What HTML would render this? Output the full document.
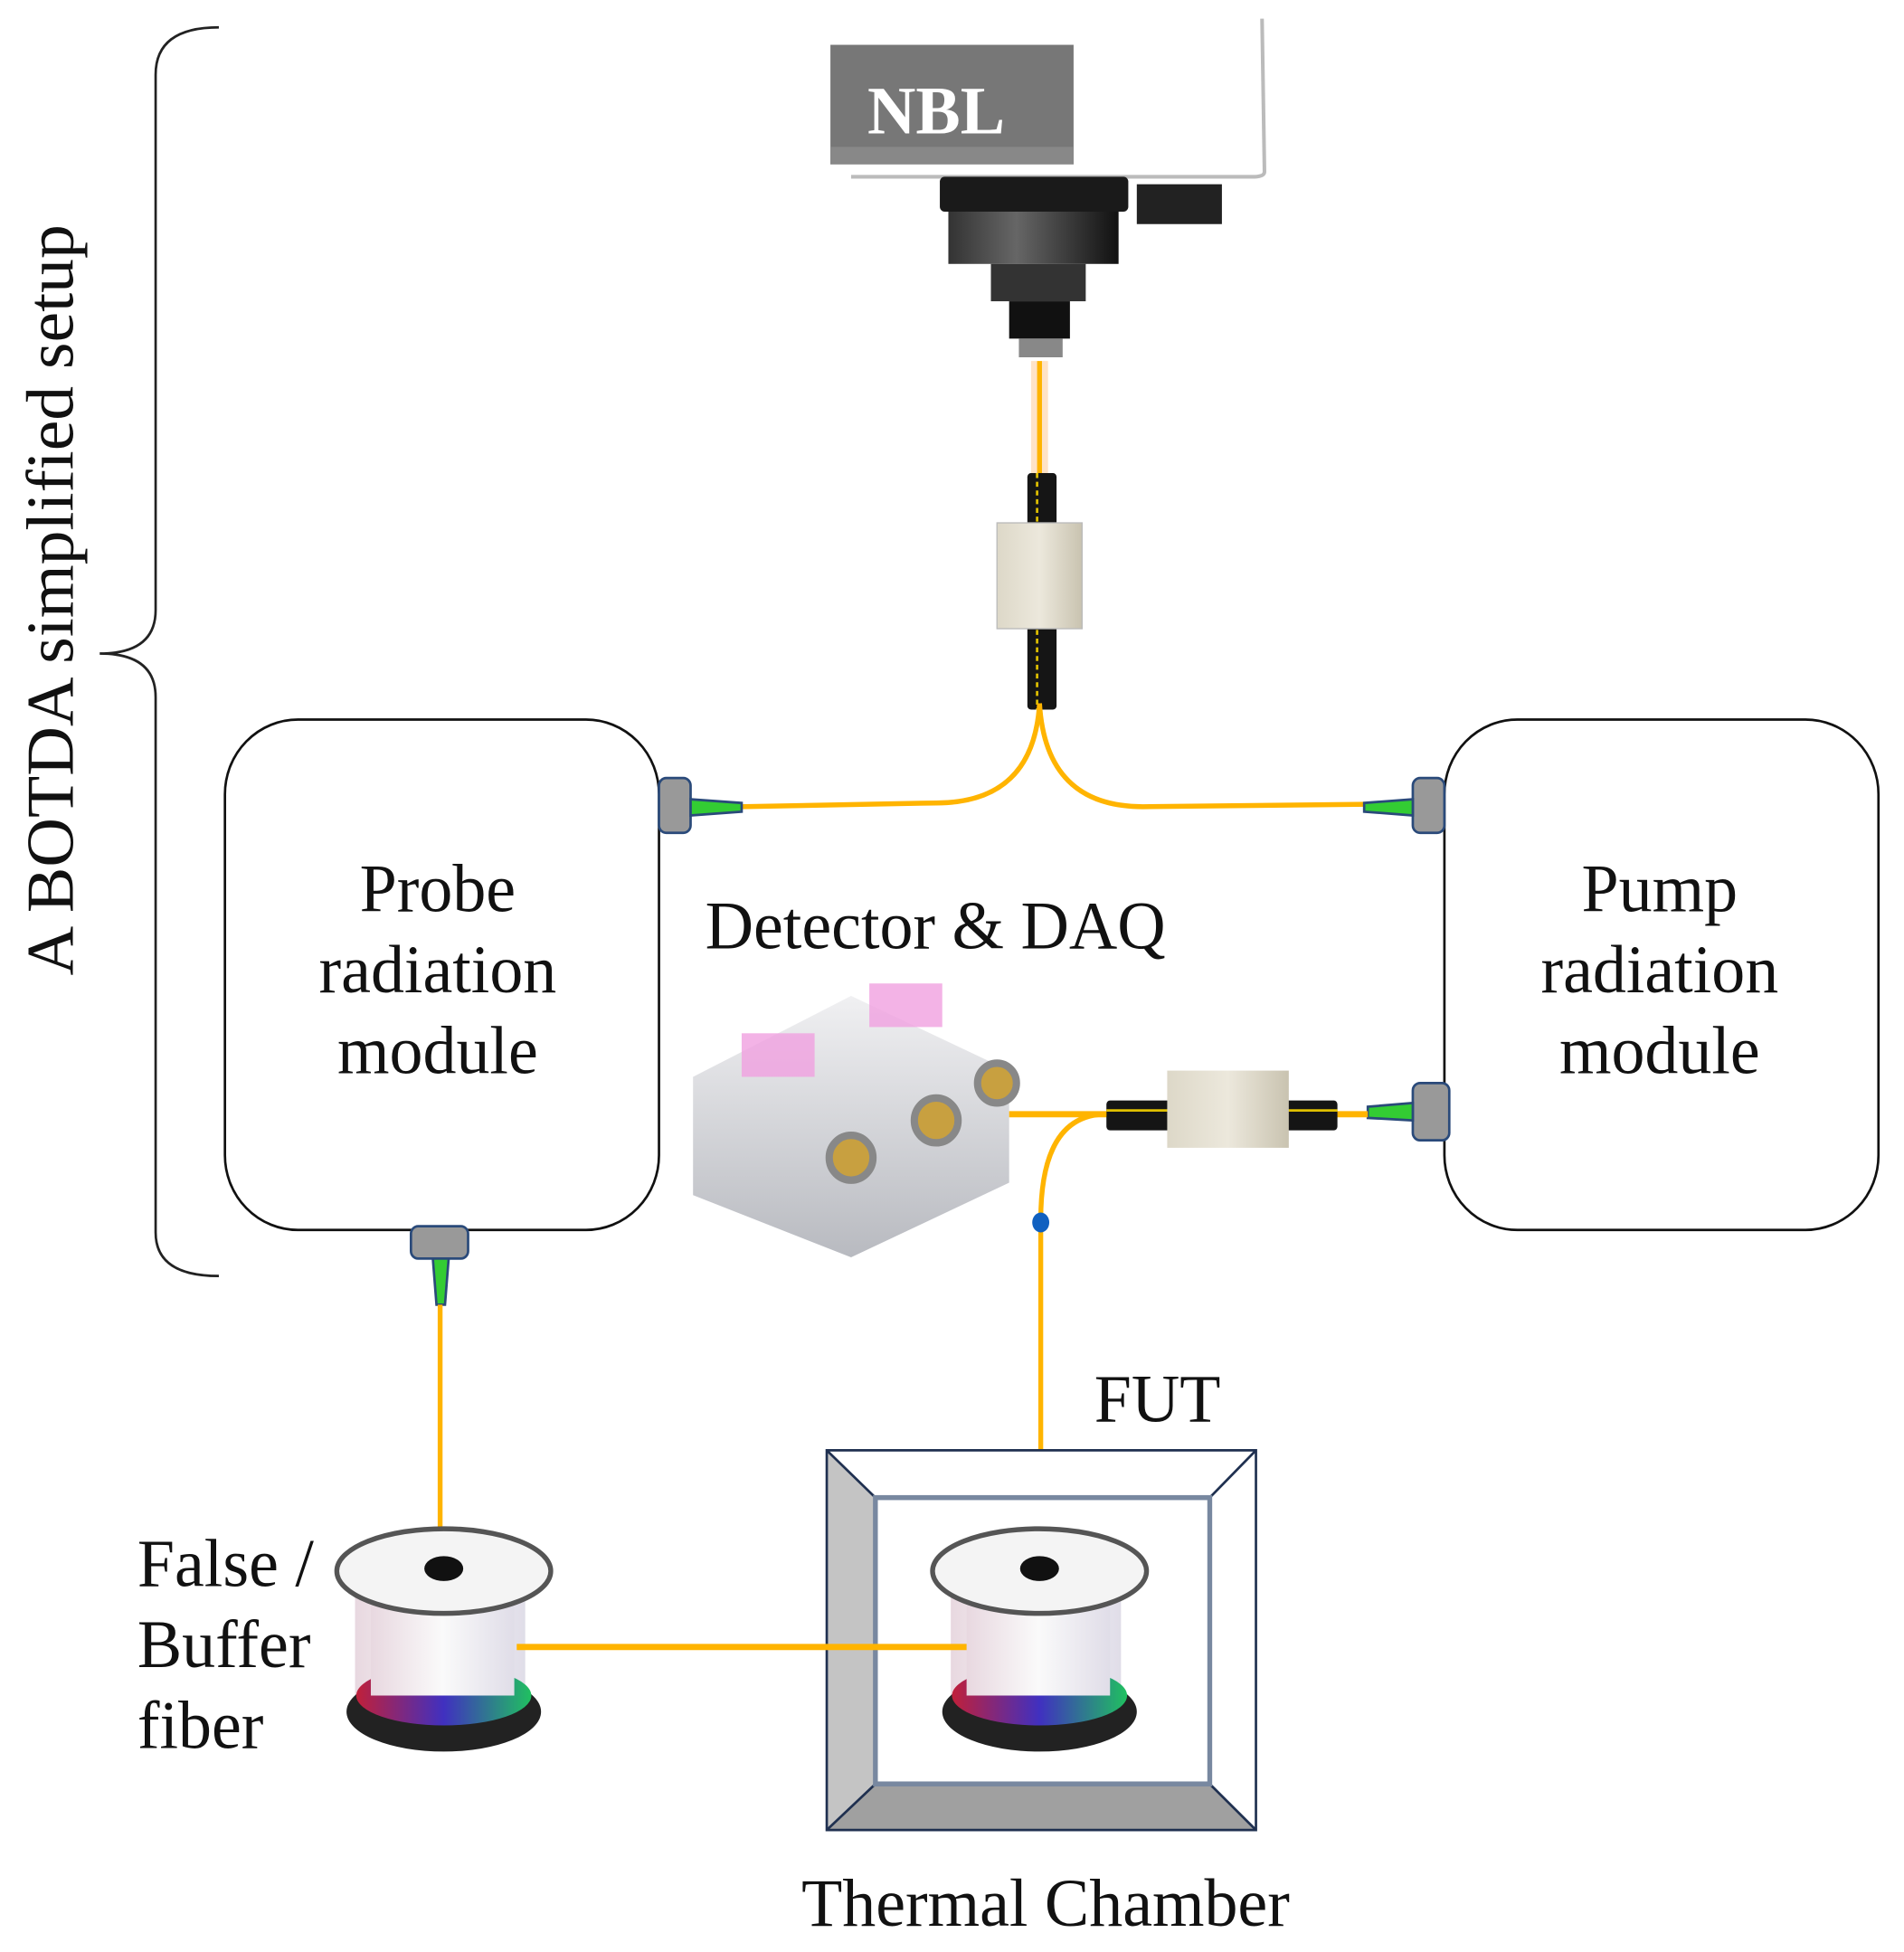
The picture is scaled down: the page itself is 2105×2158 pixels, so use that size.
<!DOCTYPE html>
<html><head><meta charset="utf-8"><style>
html,body{margin:0;padding:0;background:#fff;}
svg{display:block;}
text{font-family:"Liberation Serif",serif;fill:#111;}
</style></head><body>
<svg width="2105" height="2158" viewBox="0 0 1566 1568" preserveAspectRatio="none" xmlns="http://www.w3.org/2000/svg">
<defs>
<linearGradient id="lens" x1="0" x2="1"><stop offset="0" stop-color="#333"/><stop offset=".4" stop-color="#666"/><stop offset="1" stop-color="#111"/></linearGradient>
<linearGradient id="beige" x1="0" x2="1"><stop offset="0" stop-color="#ddd8c8"/><stop offset=".5" stop-color="#ece8dc"/><stop offset="1" stop-color="#c9c3b0"/></linearGradient>
<linearGradient id="silver" x1="0" x2="0" y1="0" y2="1"><stop offset="0" stop-color="#f0f0f2"/><stop offset="1" stop-color="#b8bac0"/></linearGradient>
<linearGradient id="spool" x1="0" x2="1"><stop offset="0" stop-color="#e8d8e0"/><stop offset=".5" stop-color="#fafafa"/><stop offset="1" stop-color="#e0dde8"/></linearGradient>
<linearGradient id="base" x1="0" x2="1"><stop offset="0" stop-color="#c0203a"/><stop offset=".5" stop-color="#4030c0"/><stop offset="1" stop-color="#20c060"/></linearGradient>
</defs>

<!-- brace -->
<path d="M180 22 Q128 22 128 60 L128 490 Q128 525 82 525 Q128 525 128 560 L128 990 Q128 1025 180 1025" fill="none" stroke="#222" stroke-width="2"/>
<text transform="translate(60 482) rotate(-90)" text-anchor="middle" font-size="55">A BOTDA simplified setup</text>

<!-- NBL -->
<path d="M1038 15 L1040 138 Q1040 142 1030 142 L700 142" fill="none" stroke="#bbb" stroke-width="3"/>
<rect x="683" y="36" width="200" height="96" fill="#777"/>
<rect x="683" y="118" width="200" height="14" fill="#888"/>
<text x="770" y="107" text-anchor="middle" font-size="55" font-weight="bold" style="fill:#fff">NBL</text>
<rect x="773" y="142" width="155" height="28" rx="4" fill="#1a1a1a"/>
<rect x="780" y="170" width="140" height="42" fill="url(#lens)"/>
<rect x="815" y="212" width="78" height="30" fill="#333"/>
<rect x="830" y="242" width="50" height="30" fill="#111"/>
<rect x="838" y="272" width="36" height="15" fill="#888"/>
<rect x="935" y="148" width="70" height="32" fill="#222"/>
<!-- fiber top -->
<rect x="848" y="290" width="14" height="95" fill="#ffd0a0" opacity=".6"/>
<line x1="855" y1="290" x2="855" y2="385" stroke="#ffb400" stroke-width="4"/>
<rect x="845" y="380" width="24" height="190" rx="3" fill="#151515"/>
<line x1="853" y1="380" x2="853" y2="570" stroke="#e0c000" stroke-width="2" stroke-dasharray="4 3"/>
<rect x="820" y="420" width="70" height="85" fill="url(#beige)" stroke="#bbb"/>
<!-- split -->
<path d="M855 565 Q850 645 770 645 L608 648" fill="none" stroke="#ffb400" stroke-width="4"/>
<path d="M855 565 Q860 648 940 648 L1125 646" fill="none" stroke="#ffb400" stroke-width="4"/>

<!-- boxes -->
<rect x="185" y="578" width="357" height="410" rx="60" fill="none" stroke="#111" stroke-width="2"/>
<rect x="1188" y="578" width="357" height="410" rx="60" fill="none" stroke="#111" stroke-width="2"/>
<g font-size="55" text-anchor="middle">
<text x="360" y="732">Probe</text><text x="360" y="797">radiation</text><text x="360" y="862">module</text>
<text x="1365" y="732">Pump</text><text x="1365" y="797">radiation</text><text x="1365" y="862">module</text>
</g>
<text x="580" y="762" font-size="55">Detector &amp; DAQ</text>

<!-- connectors -->
<g stroke="#2a4a7a" stroke-width="2">
<rect x="542" y="625" width="26" height="44" rx="6" fill="#999"/>
<path d="M568 642 L610 645 L610 652 L568 655 Z" fill="#3c3"/>
<rect x="1162" y="625" width="26" height="44" rx="6" fill="#999"/>
<path d="M1162 642 L1122 645 L1122 652 L1162 655 Z" fill="#3c3"/>
<rect x="1162" y="870" width="30" height="46" rx="6" fill="#999"/>
<path d="M1162 886 L1125 889 L1125 898 L1162 900 Z" fill="#3c3"/>
<rect x="338" y="985" width="47" height="26" rx="6" fill="#999"/>
<path d="M356 1011 L359 1048 L366 1048 L369 1011 Z" fill="#3c3"/>
</g>

<!-- DAQ -->
<path d="M570 865 L700 800 L830 860 L830 950 L700 1010 L570 960 Z" fill="url(#silver)"/>
<rect x="610" y="830" width="60" height="35" fill="#f0a0e0" opacity=".8"/>
<rect x="715" y="790" width="60" height="35" fill="#f0a0e0" opacity=".8"/>
<circle cx="700" cy="930" r="18" fill="#c8a040" stroke="#888" stroke-width="6"/>
<circle cx="770" cy="900" r="18" fill="#c8a040" stroke="#888" stroke-width="6"/>
<circle cx="820" cy="870" r="16" fill="#c8a040" stroke="#888" stroke-width="6"/>

<!-- second coupler -->
<line x1="830" y1="895" x2="1125" y2="895" stroke="#ffb400" stroke-width="5"/>
<rect x="910" y="884" width="190" height="24" rx="3" fill="#151515"/>
<line x1="910" y1="892" x2="1100" y2="892" stroke="#e0c000" stroke-width="2"/>
<rect x="960" y="860" width="100" height="62" fill="url(#beige)"/>
<path d="M910 895 Q856 895 856 980 L856 1232" fill="none" stroke="#ffb400" stroke-width="4"/>
<ellipse cx="856" cy="982" rx="7" ry="8" fill="#1060c0"/>

<!-- fiber left down -->
<line x1="362" y1="1048" x2="362" y2="1240" stroke="#ffb400" stroke-width="4"/>

<!-- thermal chamber -->
<rect x="680" y="1165" width="353" height="305" fill="#fff"/>
<path d="M680 1165 L720 1203 L720 1433 L680 1470 Z" fill="#c4c4c4"/>
<path d="M680 1470 L720 1433 L995 1433 L1033 1470 Z" fill="#a0a0a0"/>
<g fill="none" stroke="#1f3050" stroke-width="2">
<rect x="680" y="1165" width="353" height="305"/>
<line x1="680" y1="1165" x2="720" y2="1203"/><line x1="1033" y1="1165" x2="995" y2="1203"/>
<line x1="680" y1="1470" x2="720" y2="1433"/><line x1="1033" y1="1470" x2="995" y2="1433"/>
</g>
<rect x="720" y="1203" width="275" height="230" fill="none" stroke="#7888a0" stroke-width="4"/>
<text x="900" y="1142" font-size="55">FUT</text>
<text x="860" y="1547" font-size="55" text-anchor="middle">Thermal Chamber</text>

<!-- spools -->
<g id="sp">
<rect x="292" y="1270" width="140" height="110" fill="url(#spool)"/>
<ellipse cx="365" cy="1375" rx="80" ry="32" fill="#222"/>
<ellipse cx="365" cy="1362" rx="72" ry="24" fill="url(#base)"/>
<rect x="305" y="1290" width="118" height="72" fill="url(#spool)"/>
<ellipse cx="365" cy="1262" rx="88" ry="34" fill="#f4f4f4" stroke="#555" stroke-width="4"/>
<ellipse cx="365" cy="1260" rx="16" ry="10" fill="#111"/>
</g>
<use href="#sp" transform="translate(490 0)"/>
<line x1="425" y1="1323" x2="795" y2="1323" stroke="#ffb400" stroke-width="5"/>
<g font-size="55"><text x="113" y="1274">False /</text><text x="113" y="1339">Buffer</text><text x="113" y="1404">fiber</text></g>
</svg>
</body></html>
